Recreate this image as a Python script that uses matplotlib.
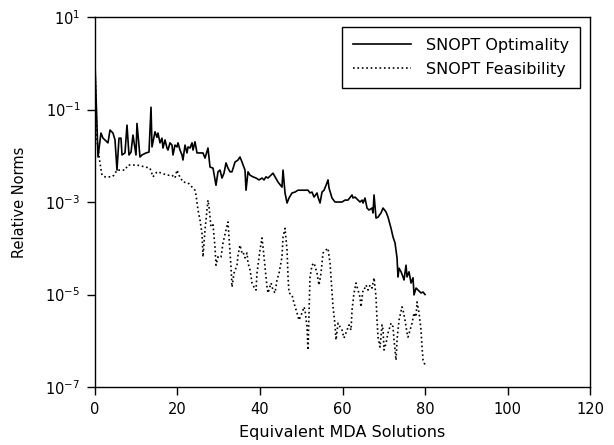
import matplotlib
matplotlib.use("Agg")
import matplotlib.pyplot as plt

# Equivalent MDA solutions (x) and relative norms (y)
opt_x = [0.0, 0.73, 1.45, 1.94, 2.42, 3.15, 3.64, 4.36, 4.85, 5.33, 5.82, 6.30, 6.55,
         7.27, 7.76, 8.24, 8.73, 9.21, 9.94, 10.18, 10.91, 11.39, 12.36, 13.09, 13.58,
         13.82, 14.55, 15.03, 15.27, 15.76, 16.24, 16.48, 16.97, 17.45, 17.70, 18.18,
         18.67, 18.91, 19.39, 19.88, 20.12, 20.61, 21.09, 21.33, 21.82, 22.30, 22.55,
         23.03, 23.52, 23.76, 24.24, 24.73, 25.45, 26.18, 26.67, 27.39, 27.88, 28.61,
         29.33, 29.82, 30.30, 30.79, 31.27, 31.76, 32.24, 32.73, 33.21, 33.94, 34.67,
         35.15, 35.64, 36.36, 36.61, 37.09, 37.58, 38.30, 39.03, 39.76, 40.48, 40.97,
         41.45, 41.94, 42.67, 43.15, 43.64, 44.36, 45.33, 45.58, 46.06, 46.55, 47.03,
         47.76, 48.48, 49.21, 50.18, 50.91, 51.64, 52.12, 52.61, 53.09, 53.82, 54.06,
         54.55, 55.03, 55.52, 56.24, 56.48, 56.73, 57.45, 58.18, 58.91, 59.88, 60.61,
         61.33, 62.30, 62.55, 63.03, 63.76, 64.24, 64.73, 64.97, 65.45, 65.94, 66.42,
         67.15, 67.39, 67.64, 68.12, 68.61, 69.33, 69.82, 70.55, 71.03, 71.76, 72.24,
         72.73, 73.21, 73.45, 73.70, 74.18, 74.67, 74.91, 75.39, 75.64, 76.12, 76.61,
         77.09, 77.33, 77.82, 78.30, 79.03, 79.52, 80.00]
opt_y = [1.0, 9.4e-3, 3.1e-2, 2.4e-2, 2.2e-2, 1.9e-2, 3.6e-2, 3.1e-2, 2.2e-2, 4.9e-3,
         2.4e-2, 2.4e-2, 1.04e-2, 1.15e-2, 4.6e-2, 1.04e-2, 1.2e-2, 2.8e-2, 1.04e-2,
         5.0e-2, 9.4e-3, 1.04e-2, 1.15e-2, 1.2e-2, 1.12e-1, 1.55e-2, 3.3e-2, 2.5e-2,
         3.1e-2, 1.9e-2, 2.4e-2, 1.47e-2, 2.2e-2, 1.47e-2, 1.33e-2, 1.9e-2, 1.7e-2,
         1.04e-2, 1.7e-2, 1.55e-2, 1.9e-2, 1.33e-2, 1.04e-2, 8.1e-3, 1.7e-2, 1.15e-2,
         1.55e-2, 1.47e-2, 1.9e-2, 1.33e-2, 2.0e-2, 1.15e-2, 1.15e-2, 1.15e-2, 8.9e-3,
         1.47e-2, 5.7e-3, 5.4e-3, 2.3e-3, 4.5e-3, 4.9e-3, 3.3e-3, 4.2e-3, 7.0e-3, 5.4e-3,
         4.5e-3, 4.5e-3, 7.3e-3, 8.1e-3, 9.4e-3, 7.3e-3, 4.9e-3, 1.8e-3, 4.5e-3, 3.8e-3,
         3.5e-3, 3.3e-3, 3.0e-3, 3.3e-3, 3.0e-3, 3.5e-3, 3.3e-3, 3.8e-3, 4.2e-3, 3.5e-3,
         2.7e-3, 2.1e-3, 4.9e-3, 1.57e-3, 9.5e-4, 1.22e-3, 1.57e-3, 1.64e-3, 1.8e-3,
         1.8e-3, 1.8e-3, 1.8e-3, 1.57e-3, 1.64e-3, 1.28e-3, 1.57e-3, 1.28e-3, 9.5e-4,
         1.64e-3, 1.8e-3, 2.6e-3, 3.0e-3, 2.0e-3, 1.22e-3, 1.0e-3, 1.0e-3, 1.0e-3,
         1.1e-3, 1.1e-3, 1.42e-3, 1.22e-3, 1.28e-3, 1.1e-3, 1.0e-3, 1.1e-3, 9.5e-4,
         1.22e-3, 7.4e-4, 6.7e-4, 7.4e-4, 5.8e-4, 1.42e-3, 4.5e-4, 4.7e-4, 5.8e-4, 7.4e-4,
         6.1e-4, 4.7e-4, 2.7e-4, 1.75e-4, 1.3e-4, 6.2e-5, 2.4e-5, 3.7e-5, 3.1e-5, 2.4e-5,
         2.06e-5, 4.3e-5, 2.4e-5, 3.1e-5, 1.77e-5, 2.3e-5, 9.8e-6, 1.38e-5, 1.25e-5,
         1.08e-5, 1.13e-5, 1.0e-5]

feas_x = [0.0, 0.48, 1.21, 1.70, 2.42, 3.39, 4.12, 4.61, 5.33, 6.30, 7.27, 8.0, 9.21,
          10.18, 11.15, 12.12, 13.33, 14.06, 15.03, 16.24, 17.45, 18.67, 19.39, 19.88,
          20.36, 21.33, 22.55, 23.52, 24.24, 24.48, 24.97, 25.45, 25.94, 26.18, 26.67,
          27.15, 27.39, 27.64, 28.12, 28.61, 29.09, 29.33, 29.82, 30.06, 30.55, 31.03,
          31.76, 32.24, 32.48, 32.97, 33.21, 33.70, 34.42, 34.67, 35.15, 35.64, 35.88,
          36.36, 36.85, 37.09, 37.58, 38.06, 38.55, 38.79, 39.03, 39.27, 40.0, 40.48,
          40.73, 41.21, 41.70, 41.94, 42.67, 43.15, 43.64, 44.12, 44.61, 45.33, 45.58,
          46.06, 46.55, 46.79, 47.03, 47.76, 48.24, 48.97, 49.45, 50.18, 50.67, 50.91,
          51.39, 51.64, 51.88, 52.12, 52.61, 53.09, 53.82, 54.30, 54.79, 55.27, 56.0,
          56.48, 56.97, 57.45, 57.70, 58.18, 58.42, 58.91, 59.39, 59.88, 60.36, 61.09,
          61.58, 62.06, 62.30, 62.79, 63.27, 63.76, 64.24, 64.48, 64.97, 65.21, 65.70,
          66.18, 66.67, 67.15, 67.64, 68.12, 68.36, 68.61, 69.09, 69.58, 69.82, 70.06,
          70.55, 71.03, 71.76, 72.24, 72.48, 72.97, 73.21, 73.70, 74.42, 74.67, 75.15,
          75.64, 75.88, 76.36, 76.85, 77.33, 77.82, 78.06, 78.55, 79.03, 79.27, 79.52,
          80.0]
feas_y = [0.8, 2.2e-2, 7.0e-3, 3.8e-3, 3.5e-3, 3.5e-3, 3.5e-3, 3.8e-3, 4.9e-3, 4.9e-3,
          4.9e-3, 6.3e-3, 6.3e-3, 6.3e-3, 6.0e-3, 5.7e-3, 5.4e-3, 3.5e-3, 4.5e-3, 4.2e-3,
          3.8e-3, 3.8e-3, 3.3e-3, 4.9e-3, 3.8e-3, 2.7e-3, 2.6e-3, 2.1e-3, 1.8e-3, 1.42e-3,
          6.7e-4, 4.1e-4, 2.1e-4, 6.5e-5, 2.5e-4, 6.7e-4, 1.1e-3, 7.8e-4, 2.9e-4, 3.2e-4,
          1.06e-4, 4.3e-5, 6.5e-5, 6.2e-5, 6.5e-5, 1.3e-4, 2.5e-4, 3.7e-4, 1.75e-4,
          3.9e-5, 1.45e-5, 2.9e-5, 4.3e-5, 7.1e-5, 1.17e-4, 7.9e-5, 8.3e-5, 6.2e-5,
          7.9e-5, 4.8e-5, 3.4e-5, 1.77e-5, 1.45e-5, 1.45e-5, 1.25e-5, 2.9e-5, 9.2e-5,
          1.67e-4, 1.06e-4, 3.9e-5, 1.45e-5, 1.08e-5, 1.77e-5, 1.25e-5, 1.08e-5, 2.06e-5,
          2.9e-5, 6.5e-5, 1.75e-4, 2.7e-4, 9.2e-5, 2.4e-5, 1.08e-5, 9.8e-6, 6.5e-6, 4.0e-6,
          2.8e-6, 4.0e-6, 5.4e-6, 4.6e-6, 2.0e-6, 6.3e-7, 4.0e-6, 2.4e-5, 4.3e-5, 4.8e-5,
          2.9e-5, 1.6e-5, 2.9e-5, 7.9e-5, 9.2e-5, 1.0e-4, 4.8e-5, 1.08e-5, 5.4e-6, 2.2e-6,
          1.04e-6, 2.4e-6, 2.0e-6, 1.7e-6, 1.15e-6, 1.7e-6, 2.2e-6, 1.7e-6, 4.6e-6,
          1.08e-5, 1.77e-5, 1.25e-5, 8.8e-6, 5.4e-6, 1.25e-5, 1.25e-5, 1.6e-5, 1.25e-5,
          1.6e-5, 1.38e-5, 2.3e-5, 8.8e-6, 2.8e-6, 1.2e-6, 7.3e-7, 2.2e-6, 1.7e-6, 6.3e-7,
          8.9e-7, 1.47e-6, 2.4e-6, 2.0e-6, 1.04e-6, 3.8e-7, 1.04e-6, 2.8e-6, 5.4e-6,
          4.6e-6, 2.8e-6, 1.47e-6, 1.2e-6, 1.7e-6, 2.4e-6, 4.0e-6, 3.3e-6, 6.9e-6, 4.0e-6,
          1.7e-6, 7.3e-7, 3.8e-7, 3.0e-7]

x_ticks = [0, 20, 40, 60, 80, 100, 120]
y_ticks = [1e-7, 1e-5, 1e-3, 1e-1, 1e1]
y_tick_labels = [r"$10^{-7}$", r"$10^{-5}$", r"$10^{-3}$", r"$10^{-1}$", r"$10^{1}$"]

plt.rcParams['font.family'] = ['DejaVu Sans']
fig = plt.figure(figsize=(6.14, 4.45), dpi=100)
ax = fig.add_axes([0.1547, 0.1303, 0.8063, 0.8315])

ax.plot(opt_x, opt_y, color='black', linestyle='-', linewidth=1.2, label='SNOPT Optimality')
ax.plot(feas_x, feas_y, color='black', linestyle=':', linewidth=1.2, label='SNOPT Feasibility')

ax.set_yscale('log')
ax.set_xlim(0, 120)
ax.set_ylim(1e-7, 1e1)
ax.set_xticks(x_ticks)
ax.set_yticks(y_ticks)
ax.set_yticklabels(y_tick_labels)
ax.yaxis.set_minor_locator(matplotlib.ticker.NullLocator())
ax.tick_params(axis='both', labelsize=10.5, direction='out', length=6, width=1, pad=4.5)
for s in ax.spines.values():
    s.set_linewidth(1.0)

ax.set_xlabel('Equivalent MDA Solutions', fontsize=11.5, labelpad=6)
ax.set_ylabel('Relative Norms', fontsize=10.5, labelpad=13)

leg = ax.legend(loc='upper right', fontsize=11.5, fancybox=False, edgecolor='black',
                framealpha=1, handlelength=3.6, borderpad=0.7, labelspacing=0.55,
                handletextpad=0.95, borderaxespad=0.6)
leg.get_frame().set_linewidth(1.0)

fig.savefig('out.png', dpi=100)
